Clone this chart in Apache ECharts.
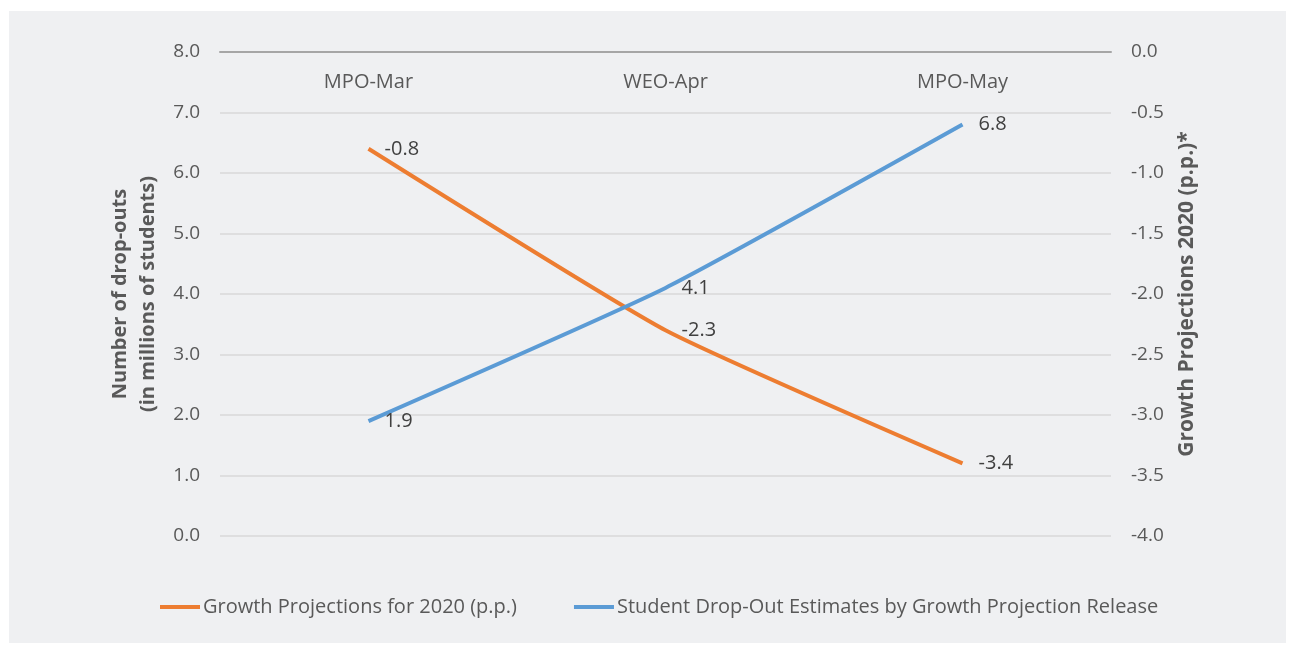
<!DOCTYPE html>
<html>
<head>
<meta charset="utf-8">
<script src="https://cdn.jsdelivr.net/npm/echarts@6/dist/echarts.min.js"></script>
<style>
  html, body { margin: 0; padding: 0; background: #ffffff; }
  #panel { position: absolute; left: 9px; top: 11px; width: 1277px; height: 632px; background: #eff0f2; }
  #chart { position: absolute; left: 0; top: 0; width: 1295px; height: 650px; }
</style>
</head>
<body>
<div id="panel"></div>
<div id="chart"></div>
<script>
// Projection releases
const categories = ['MPO-Mar', 'WEO-Apr', 'MPO-May'];
// Growth projections for 2020, percentage points (right axis)
const growthProjections = [-0.8, -2.3, -3.4];
// Student drop-outs, millions (left axis)
const dropOutEstimates = [1.9, 4.1, 6.8];

const FONT = '"Open Sans", Lato, sans-serif';
const TEXT = '#595959';

const chart = echarts.init(document.getElementById('chart'), null, { renderer: 'canvas' });

const labelStyle = {
  show: true,
  position: 'right',
  distance: 16,
  color: '#404040',
  fontSize: 20,
  fontFamily: FONT,
  formatter: p => p.value.toFixed(1)
};

chart.setOption({
  backgroundColor: 'transparent',
  textStyle: { fontFamily: FONT },
  grid: { left: 220, right: 184, top: 52, bottom: 114 },
  legend: {
    bottom: 28,
    left: 155,
    itemWidth: 40,
    itemHeight: 4,
    itemGap: 57,
    icon: 'rect',
    textStyle: { color: TEXT, fontSize: 20, fontFamily: FONT, padding: [0, 0, 0, -2] },
    data: ['Growth Projections for 2020 (p.p.)', 'Student Drop-Out Estimates by Growth Projection Release']
  },
  xAxis: {
    type: 'category',
    position: 'top',
    data: categories,
    axisLine: { show: true, onZero: false, lineStyle: { color: '#a6a6a6', width: 2 } },
    axisTick: { show: false },
    axisLabel: { inside: true, margin: 20, color: TEXT, fontSize: 20, fontFamily: FONT },
    splitLine: { show: false }
  },
  yAxis: [
    {
      type: 'value',
      min: 0, max: 8, interval: 1,
      position: 'left',
      name: 'Number of drop-outs\n(in millions of students)',
      nameLocation: 'middle',
      nameGap: 58,
      nameTextStyle: { color: TEXT, fontSize: 20, fontWeight: 'bold', fontFamily: FONT, lineHeight: 28 },
      axisLine: { show: false },
      axisTick: { show: false },
      axisLabel: { color: TEXT, fontSize: 19, margin: 20, fontFamily: FONT, formatter: v => v.toFixed(1) },
      splitLine: { lineStyle: { color: '#d9d9d9', width: 1.5 } }
    },
    {
      type: 'value',
      min: -4, max: 0, interval: 0.5,
      position: 'right',
      name: 'Growth Projections 2020 (p.p.)*',
      nameLocation: 'middle',
      nameGap: 66,
      nameRotate: 90,
      nameTextStyle: { color: TEXT, fontSize: 21, fontWeight: 'bold', fontFamily: FONT },
      axisLine: { show: false },
      axisTick: { show: false },
      axisLabel: { color: TEXT, fontSize: 19, margin: 20, fontFamily: FONT, formatter: v => v.toFixed(1) },
      splitLine: { show: false }
    }
  ],
  series: [
    {
      name: 'Growth Projections for 2020 (p.p.)',
      type: 'line',
      yAxisIndex: 1,
      data: growthProjections,
      smooth: 0.15,
      symbol: 'circle',
      symbolSize: 0.1,
      lineStyle: { color: '#ed7d31', width: 4 },
      itemStyle: { color: '#ed7d31' },
      label: labelStyle
    },
    {
      name: 'Student Drop-Out Estimates by Growth Projection Release',
      type: 'line',
      yAxisIndex: 0,
      data: dropOutEstimates,
      smooth: 0.15,
      symbol: 'circle',
      symbolSize: 0.1,
      lineStyle: { color: '#5b9bd5', width: 4 },
      itemStyle: { color: '#5b9bd5' },
      label: labelStyle
    }
  ]
});
</script>
</body>
</html>
